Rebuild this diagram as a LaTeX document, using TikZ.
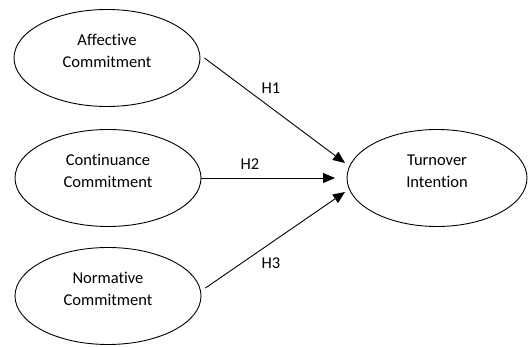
\documentclass[tikz,border=0pt]{standalone}
\usepackage{fontspec}
\setmainfont{Carlito}[RawFeature=-liga]
\usetikzlibrary{shapes.geometric,arrows.meta}
\begin{document}
\begin{tikzpicture}[x=1pt,y=-1pt,
    constrStyle/.style={draw,ellipse,line width=0.9pt,minimum width=186pt,minimum height=97pt,inner sep=0pt,align=center,text depth=14pt,font=\fontsize{16.5}{22}\selectfont},
    hypArrow/.style={-{Triangle[length=12pt,width=10pt]},line width=0.9pt},
    hypLabel/.style={font=\fontsize{16.5}{19}\selectfont},
]
\useasboundingbox (0,0) rectangle (528,347);
% Constructs
\node[constrStyle] (affComm) at (107,58) {Affective\\Commitment};
\node[constrStyle] (contComm) at (108,178) {Continuance\\Commitment};
\node[constrStyle] (normComm) at (108,296) {Normative\\Commitment};
\node[constrStyle,minimum width=180pt] (turnInt) at (437,178) {Turnover\\Intention};
% Hypotheses
\coordinate (endH1) at (345,163);
\coordinate (endH2) at (335,178);
\coordinate (endH3) at (345,192);
\draw[hypArrow] (affComm.east) ++(4,0) -- (endH1);
\draw[hypArrow] (contComm.east) -- (endH2);
\draw[hypArrow] (normComm.east) ++(4,-8) -- (endH3);
\node[hypLabel] (labH1) at (271,88) {H1};
\node[hypLabel] (labH2) at (250,164) {H2};
\node[hypLabel] (labH3) at (271,263) {H3};
\end{tikzpicture}
\end{document}
